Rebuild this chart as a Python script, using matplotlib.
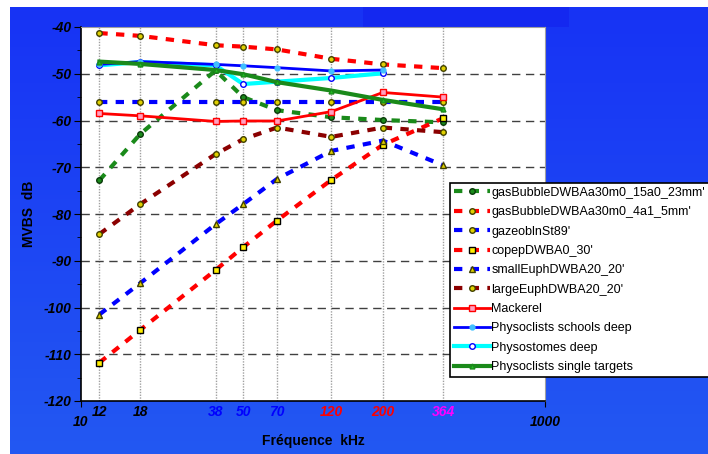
import numpy as np
import matplotlib
matplotlib.use("Agg")
import matplotlib.pyplot as plt
from matplotlib.patches import Rectangle

plt.rcParams['font.family'] = ['Liberation Sans', 'DejaVu Sans']

freqs = [12, 18, 38, 50, 70, 120, 200, 364]
freq_labels = ['12', '18', '38', '50', '70', '120', '200', '364']
freq_label_colors = ['black', 'black', 'blue', 'blue', 'blue', 'red', 'red', 'magenta']

gas_15a0 = [-72.8, -62.9, -49.3, -55.0, -57.8, -59.3, -59.9, -60.4]
gas_4a1 = [-41.3, -41.9, -43.9, -44.2, -44.8, -46.8, -48.0, -48.8]
gazeo = [-56.0, -56.0, -56.0, -56.0, -56.0, -56.0, -56.0, -56.0]
copep = [-111.8, -104.8, -92.0, -87.1, -81.4, -72.7, -65.2, -59.5]
small_euph = [-101.5, -94.8, -82.2, -77.9, -72.5, -66.5, -64.3, -69.6]
large_euph = [-84.3, -77.9, -67.2, -64.0, -61.5, -63.5, -61.5, -62.5]
mackerel = [-58.5, -59.0, -60.2, -60.1, -60.1, -58.1, -54.0, -55.0]
physocl_schools_f = [12, 18, 38, 50, 70, 120, 200]
physocl_schools = [-48.0, -47.4, -48.0, -48.3, -48.7, -49.4, -49.2]
physost_deep_f = [12, 18, 38, 50, 70, 120, 200]
physost_deep = [-48.2, -47.5, -48.2, -52.2, -51.7, -50.9, -49.9]
physocl_single = [-47.4, -47.9, -49.2, -50.1, -51.8, -53.6, -55.6, -57.6]

W, H = 708, 454
fig = plt.figure(figsize=(W / 100, H / 100), dpi=100)
fig.patch.set_facecolor('white')

# blue background
bg = fig.add_axes([10 / W, 0, 1 - 10 / W, 1 - 7 / H])
grad = np.linspace(0, 1, 100).reshape(-1, 1)
top = np.array([0x17, 0x33, 0xf5]) / 255
bot = np.array([0x23, 0x58, 0xf2]) / 255
img = top[None, None, :] * (1 - grad[:, :, None]) + bot[None, None, :] * grad[:, :, None]
bg.imshow(img, aspect='auto', extent=[0, 1, 0, 1], origin='upper')
bg.add_patch(Rectangle((353 / 698, 1 - 20 / 447), (569 - 363) / 698, 20 / 447,
                       facecolor='#1428f0', edgecolor='none'))
bg.set_xlim(0, 1)
bg.set_ylim(0, 1)
bg.axis('off')

ax = fig.add_axes([81 / W, 1 - 401 / H, (545 - 81) / W, (401 - 27) / H])
ax.set_facecolor('white')
ax.set_xscale('log')
ax.set_xlim(10, 1000)
ax.set_ylim(-120, -40)

# grid
for f in freqs:
    ax.axvline(f, color='#a0a0a0', lw=1.0, ls=(0, (1, 1)), zorder=1)
for yv in range(-110, -40, 10):
    ax.axhline(yv, color='#404040', lw=1.0, ls=(0, (6, 4)), zorder=1)

dash = (0, (2, 2))
mk = dict(markersize=4, markeredgewidth=1.0)

ax.plot(freqs, gas_15a0, color='#1a8a1a', lw=3, ls=dash, marker='o',
        markerfacecolor='#1a8a1a', markeredgecolor='#0a3a0a',
        label="gasBubbleDWBAa30m0_15a0_23mm'", zorder=3, **mk)
ax.plot(freqs, gas_4a1, color='red', lw=3, ls=dash, marker='o',
        markerfacecolor='#e0d000', markeredgecolor='#404000',
        label="gasBubbleDWBAa30m0_4a1_5mm'", zorder=3, **mk)
ax.plot(freqs, gazeo, color='blue', lw=3, ls=dash, marker='o',
        markerfacecolor='#e0d000', markeredgecolor='#404000',
        label="gazeoblnSt89'", zorder=3, **mk)
ax.plot(freqs, copep, color='red', lw=3, ls=dash, marker='s',
        markerfacecolor='#ffee00', markeredgecolor='black',
        label="copepDWBA0_30'", zorder=3, **mk)
ax.plot(freqs, small_euph, color='blue', lw=3, ls=dash, marker='^',
        markerfacecolor='#e0d000', markeredgecolor='#404000',
        label="smallEuphDWBA20_20'", zorder=3, **mk)
ax.plot(freqs, large_euph, color='#8b0000', lw=3, ls=dash, marker='o',
        markerfacecolor='#e0d000', markeredgecolor='#404000',
        label="largeEuphDWBA20_20'", zorder=3, **mk)
ax.plot(freqs, mackerel, color='red', lw=2, marker='s',
        markerfacecolor='#ffa0c0', markeredgecolor='red',
        label='Mackerel', zorder=4, **mk)
ax.plot(physocl_schools_f, physocl_schools, color='blue', lw=2, marker='o',
        markerfacecolor='#40c0ff', markeredgecolor='#40c0ff',
        label='Physoclists schools deep', zorder=4, markersize=3.5)
ax.plot(physost_deep_f, physost_deep, color='cyan', lw=3, marker='o',
        markerfacecolor='white', markeredgecolor='blue',
        label='Physostomes deep', zorder=3.5, **mk)
ax.plot(freqs, physocl_single, color='#1a8a1a', lw=3, marker='^',
        markerfacecolor='#20c020', markeredgecolor='#1a8a1a',
        label='Physoclists single targets', zorder=4, markersize=3.5)

# spines
for s in ['top', 'right']:
    ax.spines[s].set_color('#a0a0a0')
for s in ['left', 'bottom']:
    ax.spines[s].set_color('black')
    ax.spines[s].set_linewidth(1.2)

# y ticks
ax.set_yticks(range(-120, -39, 10))
ax.set_yticks(range(-115, -40, 10), minor=True)
ax.set_yticklabels([str(v) for v in range(-120, -39, 10)], fontsize=10,
                   fontweight='bold', fontstyle='italic')
ax.tick_params(axis='y', which='major', length=5, direction='out', color='black', pad=2)
ax.tick_params(axis='y', which='minor', length=3, direction='out', color='black')

# x ticks
ax.set_xticks([10, 1000])
ax.set_xticklabels(['10', '1000'], fontsize=10, fontweight='bold', fontstyle='italic')
ax.tick_params(axis='x', which='major', length=4, direction='out', pad=6)
ax.set_xticks(freqs, minor=True)
ax.set_xticklabels(freq_labels, minor=True, fontsize=10, fontweight='bold',
                   fontstyle='italic')
ax.tick_params(axis='x', which='minor', length=0, pad=3)
for lab, c in zip(ax.get_xticklabels(minor=True), freq_label_colors):
    lab.set_color(c)

fig.text(313 / W, 1 - 441 / H, 'Fréquence  kHz', fontsize=10, fontweight='bold',
         ha='center', va='center')
fig.text(29 / W, 1 - 214 / H, 'MVBS  dB', fontsize=10, fontweight='bold',
         ha='center', va='center', rotation=90)

leg = ax.legend(loc='upper left', bbox_to_anchor=(450 / W, 1 - 183 / H),
                bbox_transform=fig.transFigure, fontsize=9, frameon=True,
                fancybox=False, edgecolor='black', framealpha=1,
                borderaxespad=0, borderpad=0.3, labelspacing=0.59,
                handlelength=2.9, handletextpad=0.1)
leg.get_frame().set_linewidth(1.2)
leg.set_zorder(10)

fig.savefig('out.png', dpi=100)
